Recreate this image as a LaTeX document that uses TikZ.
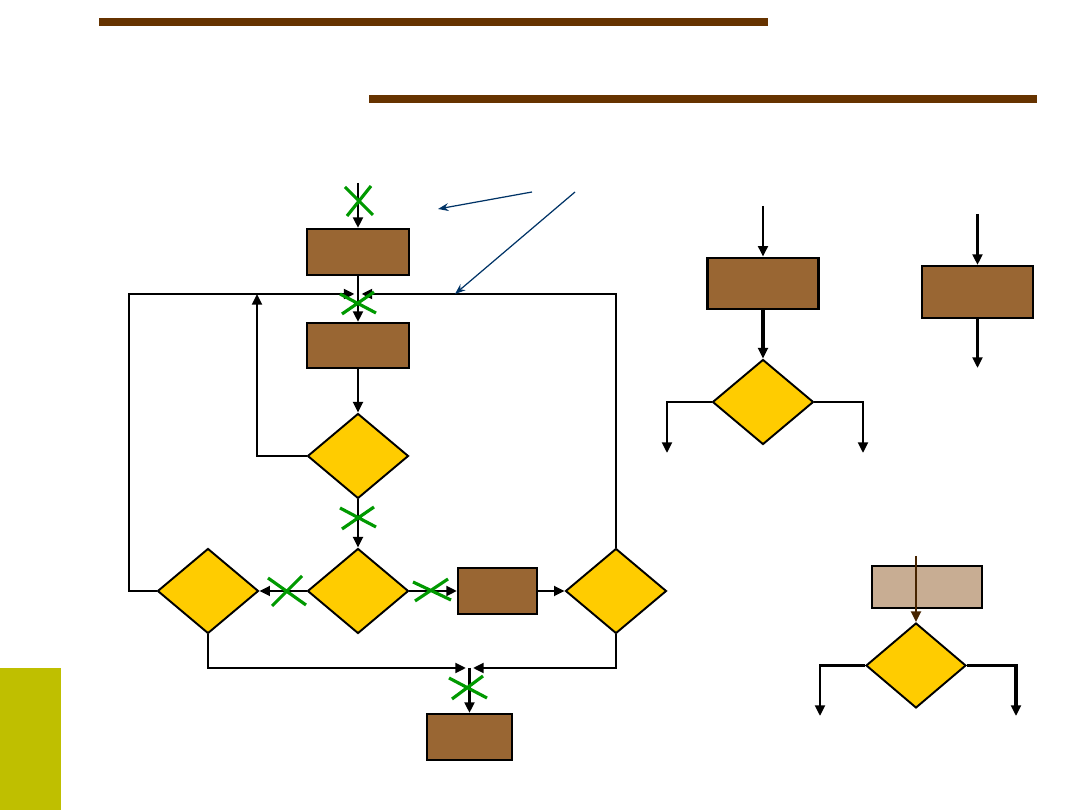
\documentclass[tikz,border=0pt]{standalone}
\usepackage{xcolor}
\usepackage{tikz}
\usetikzlibrary{arrows.meta,shapes.geometric}
\definecolor{barbrown}{HTML}{663300}
\definecolor{boxbrown}{HTML}{996633}
\definecolor{boxtan}{HTML}{C8AD93}
\definecolor{dyellow}{HTML}{FFCC00}
\definecolor{xgreen}{HTML}{009900}
\definecolor{noteblue}{HTML}{003366}
\definecolor{sideolive}{HTML}{BFBF00}
\tikzset{
  procbox/.style={rectangle,draw,line width=1.2pt,fill=boxbrown,inner sep=0pt},
  decbox/.style={diamond,draw,line width=1.1pt,fill=dyellow,inner sep=0pt,
    minimum width=2.02cm,minimum height=1.7cm},
  flow/.style={line width=1.7pt,-{Triangle[length=6pt,width=5.5pt]}},
  gx/.style={xgreen,line width=1.8pt},
  note/.style={noteblue,line width=0.7pt,-{Stealth[length=6pt,width=4.5pt]}}
}
\begin{document}
\begin{tikzpicture}[x=0.02cm,y=-0.02cm]
\useasboundingbox(0,0)rectangle(1080,810);
% bars and side block
\fill[barbrown](99,18)rectangle(768,26);
\fill[barbrown](369,95)rectangle(1037,103);
\fill[sideolive](0,668)rectangle(61,810);
% main flowchart
\node[procbox,minimum width=2.04cm,minimum height=0.92cm](A)at(358,252){};
\node[procbox,minimum width=2.04cm,minimum height=0.9cm](B)at(358,345.5){};
\node[decbox](D1)at(358,456){};
\node[decbox](D2)at(358,591){};
\node[decbox](D3)at(208,591){};
\node[decbox](D4)at(616,591){};
\node[procbox,minimum width=1.58cm,minimum height=0.92cm](C)at(497.5,591){};
\node[procbox,minimum width=1.7cm,minimum height=0.92cm](E)at(469.5,737){};
\coordinate(inA)at(358,183);
\coordinate(jt)at(358,294);
\coordinate(jb)at(469.5,668);
\coordinate(lp)at(257,294);
\coordinate(lc)at(129,591);
\coordinate(lt)at(129,294);
\draw[flow](inA)--(A.north);
\draw[flow](A.south)--(B.north);
\draw[flow](B.south)--(D1.north);
\draw[flow](D1.west)-|(lp);
\draw[flow](D1.south)--(D2.north);
\draw[flow](D2.west)--(D3.east);
\draw[flow](D2.east)--(C.west);
\draw[flow](C.east)--(D4.west);
\draw[flow,shorten >=2pt](D3.west)--(lc)--(lt)--(jt);
\draw[flow,shorten >=2pt](D4.north)|-(jt);
\draw[flow,shorten >=2pt](D3.south)|-(jb);
\draw[flow,shorten >=2pt](D4.south)|-(jb);
\draw[flow](jb)--(E.north);
% crossed-out links
\draw[gx,shift={(358,201)}](-13,-14)--(15,14)(13,-15)--(-11,15);
\draw[gx,shift={(358,303)}](-18,-9)--(18,10)(16,-11)--(-16,11);
\draw[gx,shift={(358,518)}](-18,-10)--(18,9)(16,-11)--(-16,11);
\draw[gx,shift={(287,591)}](-19,-13)--(19,14)(15,-15)--(-15,15);
\draw[gx,shift={(432,590)}](-19,-8)--(19,10)(16,-11)--(-17,11);
\draw[gx,shift={(468,688)}](-19,-10)--(19,10)(15,-12)--(-16,11);
% notes
\coordinate(n1)at(532,192);
\coordinate(n2)at(575,192);
\coordinate(t1)at(438,209);
\coordinate(t2)at(455,294);
\draw[note](n1)--(t1);
\draw[note](n2)--(t2);
% right: box and decision
\node[procbox,line width=1.6pt,minimum width=2.22cm,minimum height=1.02cm](F)at(763,283.5){};
\node[decbox](D5)at(763,402){};
\coordinate(inF)at(763,206);
\coordinate(l5)at(667,453);
\coordinate(r5)at(863,453);
\draw[flow](inF)--(F.north);
\draw[flow,line width=2pt](F.south)--(D5.north);
\draw[flow](D5.west)-|(l5);
\draw[flow](D5.east)-|(r5);
% right: single box
\node[procbox,minimum width=2.22cm,minimum height=1.04cm](G)at(977.5,292){};
\coordinate(inG)at(977.5,214);
\coordinate(outG)at(977.5,368);
\draw[flow,line width=2pt](inG)--(G.north);
\draw[flow,line width=2pt](G.south)--(outG);
% bottom right
\node[procbox,fill=boxtan,minimum width=2.2cm,minimum height=0.84cm](H)at(927,587){};
\node[decbox,minimum width=2cm](D6)at(916,665.5){};
\coordinate(inH)at(916,556);
\coordinate(l6)at(820,716);
\coordinate(r6)at(1016,716);
\draw[flow,draw=barbrown!70!black](inH)--(D6.north);
\draw[flow](D6.west)-|(l6);
\draw[flow,line width=2pt](D6.east)-|(r6);
\end{tikzpicture}
\end{document}
